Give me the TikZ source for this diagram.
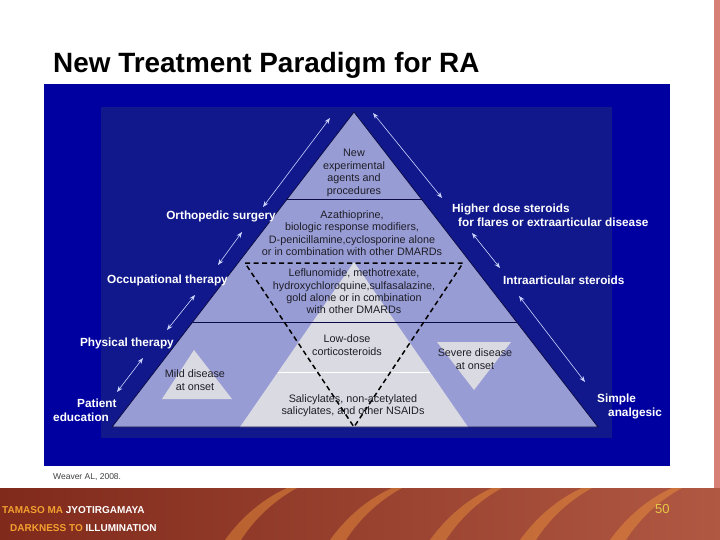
\documentclass[tikz,border=0pt]{standalone}
\usepackage{fontspec}
\setmainfont{Liberation Sans}
\usetikzlibrary{arrows,arrows.meta,calc,positioning}
\definecolor{slideblue}{RGB}{0,0,160}
\definecolor{panelblue}{RGB}{16,24,140}
\definecolor{lavender}{RGB}{152,156,212}
\definecolor{paleband}{RGB}{218,218,226}
\definecolor{inkgray}{RGB}{30,30,40}
\definecolor{edgenavy}{RGB}{10,10,70}
\definecolor{arrowblue}{RGB}{205,212,255}
\definecolor{pinkstrip}{RGB}{214,128,118}
\definecolor{bannerdark}{RGB}{128,42,28}
\definecolor{bannerlight}{RGB}{176,88,66}
\definecolor{flame}{RGB}{240,150,60}
\definecolor{mottogold}{RGB}{244,160,48}
\definecolor{pagegold}{RGB}{232,200,70}
\tikzstyle{sidearrow}=[
  <->,
  color=arrowblue,
  line width=.6pt,
]
\tikzstyle{sidelabel}=[
  text=white,
  inner sep=0pt,
  font={\fontsize{11.8}{14}\selectfont\bfseries},
]
\tikzstyle{druglabel}=[
  text=inkgray,
  inner sep=0pt,
  align=center,
  font={\fontsize{10.8}{12.4}\selectfont},
]
\tikzstyle{bandline}=[
  draw=edgenavy,
  line width=1.2pt,
]
\tikzset{
  >={Stealth[length=6pt,width=4.5pt]},
  dmard/.style={draw=black, line width=1.5pt, dash pattern=on 5pt off 3.5pt},
}
\begin{document}
\begin{tikzpicture}[x=1pt,y=-1pt]
  \useasboundingbox (0,0) rectangle (720,540);
  \fill[white] (0,0) rectangle (720,540);
  \fill[pinkstrip] (714,0) rectangle (720,490);
  \shade[left color=bannerdark, right color=bannerlight] (0,488) rectangle (720,540);
  \foreach \s in {225,330,430,520,610} {
    \fill[flame, opacity=.45] (\s,540) .. controls (\s+18,515) and (\s+40,498) .. (\s+62,488)
      -- (\s+72,488) .. controls (\s+50,500) and (\s+30,518) .. (\s+16,540) -- cycle;
  }
  \node [anchor=base west, inner sep=0pt, font={\fontsize{27.9}{30}\selectfont\bfseries}]
    (title) at (53,73) {New Treatment Paradigm for RA};
  \fill[slideblue] (44,84) rectangle (670,466);
  \fill[panelblue] (101,107) rectangle (612,438);
  \coordinate (apex) at (354,112);
  \coordinate (bl) at (112,427);
  \coordinate (br) at (598,427);
  \fill[lavender] (apex) -- (bl) -- (br) -- cycle;
  \coordinate (gtop) at (354,262);
  \coordinate (gl) at (240,427);
  \coordinate (gr) at (468,427);
  \fill[paleband] (gtop) -- (gl) -- (gr) -- cycle;
  \draw[white, line width=1.2pt] ($(gtop)!.67!(gl)$) -- ($(gtop)!.67!(gr)$);
  \draw[bandline] ($(apex)!.279!(bl)$) -- ($(apex)!.279!(br)$);
  \draw[bandline] ($(apex)!.667!(bl)$) -- ($(apex)!.667!(br)$);
  \draw[edgenavy, line width=.8pt] (apex) -- (bl) -- (br) -- cycle;
  \coordinate (dl) at (245,263);
  \coordinate (dr) at (463,263);
  \coordinate (db) at (354,427);
  \draw[dmard] (dl) -- (dr) -- (db) -- cycle;
  \fill[paleband] (194,350) -- (162,399) -- (232,399) -- cycle;
  \fill[paleband] (437,342) -- (511,342) -- (474,390) -- cycle;
  \node [druglabel] (newagents) at (354,173)
    {New\\experimental\\agents and\\procedures};
  \node [druglabel] (aza) at (352,233)
    {Azathioprine,\\biologic response modifiers,\\D-penicillamine,cyclosporine alone\\or in combination with other DMARDs};
  \node [druglabel] (lef) at (354,291.5)
    {Leflunomide, methotrexate,\\hydroxychloroquine,sulfasalazine,\\gold alone or in combination\\with other DMARDs};
  \node [druglabel] (lowdose) at (347,345) {Low-dose\\corticosteroids};
  \node [druglabel] (nsaid) at (353,406)
    {Salicylates, non-acetylated\\salicylates, and other NSAIDs};
  \node [druglabel] (mild) at (195,380) {Mild disease\\at onset};
  \node [druglabel] (severe) at (475,359) {Severe disease\\at onset};
  \node [sidelabel, anchor=east] (ortho) at (276,216) {Orthopedic surgery};
  \node [sidelabel, anchor=east] (occup) at (228,280) {Occupational therapy};
  \node [sidelabel, anchor=east] (physio) at (174,343) {Physical therapy};
  \node [sidelabel, align=left, anchor=west] (educ) at (53,410)
    {\hspace*{24pt}Patient\\education};
  \node [sidelabel, align=left, anchor=west] (highdose) at (452,215)
    {Higher dose steroids\\\hspace*{6pt}for flares or extraarticular disease};
  \node [sidelabel, anchor=west] (intra) at (503,280) {Intraarticular steroids};
  \node [sidelabel, align=left, anchor=west] (simple) at (597,406)
    {Simple\\\hspace*{11pt}analgesic};
  \coordinate (a1) at (330,118);
  \coordinate (b1) at (263,207);
  \coordinate (a2) at (242,232);
  \coordinate (b2) at (218,265);
  \coordinate (a3) at (195,295);
  \coordinate (b3) at (167,330);
  \coordinate (a4) at (143,358);
  \coordinate (b4) at (117,392);
  \coordinate (c1) at (373,113);
  \coordinate (d1) at (442,198);
  \coordinate (c2) at (472,233);
  \coordinate (d2) at (500,268);
  \coordinate (c3) at (519,296);
  \coordinate (d3) at (585,382);
  \foreach \p/\q in {a1/b1,a2/b2,a3/b3,a4/b4,c1/d1,c2/d2,c3/d3}
    \draw [sidearrow] (\p) -- (\q);
  \node [anchor=base west, inner sep=0pt, text=black!75, font={\fontsize{8.5}{10}\selectfont}]
    (source) at (53,479) {Weaver AL, 2008.};
  \node [anchor=base west, inner sep=0pt, font={\fontsize{10}{12}\selectfont\bfseries}]
    (motto) at (2,513) {\textcolor{mottogold}{TAMASO MA} \textcolor{white}{JYOTIRGAMAYA}};
  \node [anchor=base west, inner sep=0pt, font={\fontsize{10}{12}\selectfont\bfseries}]
    (mottoen) at (10,531) {\textcolor{mottogold}{DARKNESS TO} \textcolor{white}{ILLUMINATION}};
  \node [anchor=base west, inner sep=0pt, text=pagegold, font={\fontsize{13}{14}\selectfont}]
    (page) at (655,513) {50};
\end{tikzpicture}
\end{document}
